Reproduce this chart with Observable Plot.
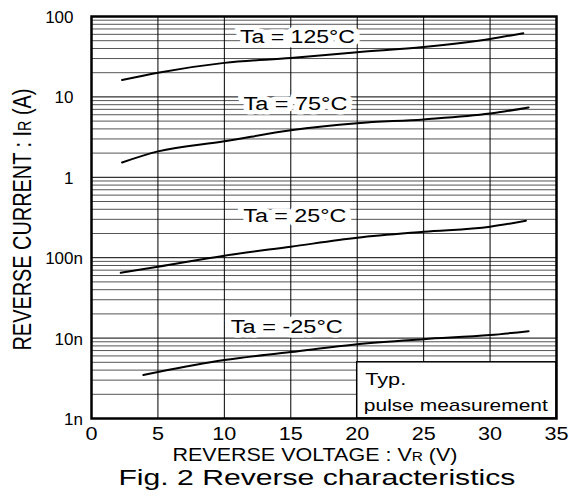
<!DOCTYPE html>
<html><head><meta charset="utf-8">
<script src="https://cdn.jsdelivr.net/npm/d3@7"></script>
<script src="https://cdn.jsdelivr.net/npm/@observablehq/plot@0.6"></script>
<style>
body{margin:0;background:#fff;font-family:"Liberation Sans",Arial,sans-serif;}
#chart svg{display:block;}
#cap{width:569px;height:32px;text-align:center;font-size:22px;line-height:26px;color:#000;}
#cap span{display:inline-block;transform:scaleX(1.37);position:relative;left:32px;}
</style></head><body>
<div id="chart"></div>
<div id="cap"><span>Fig. 2 Reverse characteristics</span></div>
<script>
// Reverse voltage (V) and reverse current (µA)
const v125 = [2.3, 5, 10, 15, 20, 25, 30, 32.5];
const i125 = [16.2, 20, 26.5, 30.5, 36, 41.7, 52.5, 62];
const v75 = [2.3, 5, 10, 15, 20, 25, 30, 32.9];
const i75 = [1.53, 2.1, 2.8, 3.84, 4.7, 5.25, 6.2, 7.4];
const v25 = [2.2, 5, 10, 15, 20, 25, 30, 32.7];
const i25 = [0.065, 0.077, 0.106, 0.137, 0.177, 0.21, 0.243, 0.288];
const vm25 = [3.9, 5, 10, 15, 20, 25, 30, 32.9];
const im25 = [0.00347, 0.00378, 0.00533, 0.0067, 0.0084, 0.0097, 0.0109, 0.0122];

const seriesNames = ["Ta = 125°C", "Ta = 75°C", "Ta = 25°C", "Ta = -25°C"];
const labelX = [15.5, 15.35, 15.3, 14.7];
const labelY = [55.6, 8.07, 0.327, 0.0137];

const xTicks = [0, 5, 10, 15, 20, 25, 30, 35];
const xGrid = [5, 10, 15, 20, 25, 30];
const yTicks = [0.001, 0.01, 0.1, 1, 10, 100];
const yTickNums = ["1", "10", "100", "1", "10", "100"];
const yTickSuffix = ["n", "n", "n", "", "", ""];
const yMinor = [];
for (const d of [0.001, 0.01, 0.1, 1, 10]) for (const k of [2,3,4,5,6,7,8,9]) yMinor.push(k * d);

const noteText = ["Typ.", "pulse measurement"];
const noteX = [20.6, 20.5];
const noteY = [0.00309, 0.00147];

const xLabel = "REVERSE VOLTAGE : VR (V)";
const yLabel = "REVERSE CURRENT : IR (A)";

const curves = [
  v125.map((v, i) => ({v, c: i125[i], s: seriesNames[0]})),
  v75.map((v, i) => ({v, c: i75[i], s: seriesNames[1]})),
  v25.map((v, i) => ({v, c: i25[i], s: seriesNames[2]})),
  vm25.map((v, i) => ({v, c: im25[i], s: seriesNames[3]}))
].flat();
const labels = seriesNames.map((t, i) => ({t, x: labelX[i], y: labelY[i]}));
const notes = noteText.map((t, i) => ({t, x: noteX[i], y: noteY[i]}));
const yTickData = yTicks.map((y, i) => ({y, num: yTickNums[i], suf: yTickSuffix[i]}));

const plot = Plot.plot({
  width: 569, height: 465,
  marginTop: 16, marginBottom: 47, marginLeft: 91, marginRight: 13,
  style: {fontFamily: "'Liberation Sans', Arial, sans-serif", color: "#000", background: "#fff"},
  x: {domain: [0, 35]},
  y: {type: "log", domain: [0.001, 100], axis: null},
  marks: [
    Plot.ruleY(yMinor, {stroke: "#555", strokeWidth: 1}),
    Plot.ruleY(yTicks, {stroke: "#000", strokeWidth: 1}),
    Plot.ruleX(xGrid, {stroke: "#000", strokeWidth: 1}),
    Plot.rect([{x1: 20, x2: 35, y1: 0.001, y2: 0.005}], {x1: "x1", x2: "x2", y1: "y1", y2: "y2", fill: "#fff", stroke: "#000", strokeWidth: 1.5}),
    Plot.line(curves, {x: "v", y: "c", z: "s", stroke: "#000", strokeWidth: 2, curve: "monotone-x"}),
    Plot.text(labels, {x: "x", y: "y", text: "t", fontSize: 18, fill: "#000", stroke: "#fff", strokeWidth: 9, textAnchor: "middle"}),
    Plot.text(notes, {x: "x", y: "y", text: "t", fontSize: 17, fill: "#000", textAnchor: "start"}),
    Plot.frame({stroke: "#000", strokeWidth: 2.5}),
    Plot.axisX({ticks: xTicks, tickSize: 0, tickPadding: 9, fontSize: 18, label: null}),
    Plot.text(yTickData, {y: "y", text: "num", frameAnchor: "left", textAnchor: "end", dx: -18, dy: 1, fontSize: 17, fill: "#000"}),
    Plot.text(yTickData, {y: "y", text: "suf", frameAnchor: "left", textAnchor: "start", dx: -18, dy: 1, fontSize: 17, fill: "#000"}),
    Plot.text([xLabel], {frameAnchor: "bottom", dy: 37, dx: -9, fontSize: 18, fill: "#000", lineAnchor: "middle", textAnchor: "middle"}),
    Plot.text([yLabel], {frameAnchor: "left", dx: -69, dy: 2, rotate: -90, fontSize: 19, fill: "#000", lineAnchor: "middle", textAnchor: "middle"})
  ]
});
document.getElementById("chart").append(plot);

const widths = {"Ta = 125°C": 115, "Ta = 75°C": 104, "Ta = 25°C": 103, "Ta = -25°C": 112,
  "Typ.": 41, "pulse measurement": 184, [xLabel]: 285, [yLabel]: 262};
const xTickStrings = xTicks.map(String);
plot.querySelectorAll("text").forEach((t) => {
  const txt = t.textContent;
  if (txt === xLabel || txt === yLabel) {
    const parts = txt === xLabel ? ["REVERSE VOLTAGE : V", "R", " (V)"] : ["REVERSE CURRENT : I", "R", " (A)"];
    t.textContent = "";
    parts.forEach((p, i) => {
      const ts = document.createElementNS("http://www.w3.org/2000/svg", "tspan");
      ts.textContent = p;
      if (i === 1) ts.setAttribute("font-size", "0.72em");
      t.appendChild(ts);
    });
    if (txt === yLabel) t.setAttribute("transform", (t.getAttribute("transform") || "") + " scale(1,1.4)");
  }
  let w = widths[txt];
  if (!w && xTickStrings.includes(txt) && t.closest("[aria-label='x-axis tick label']")) w = t.getComputedTextLength() * 1.2;
  if (w) { t.setAttribute("textLength", w); t.setAttribute("lengthAdjust", "spacingAndGlyphs"); }
});
</script>
</body></html>
